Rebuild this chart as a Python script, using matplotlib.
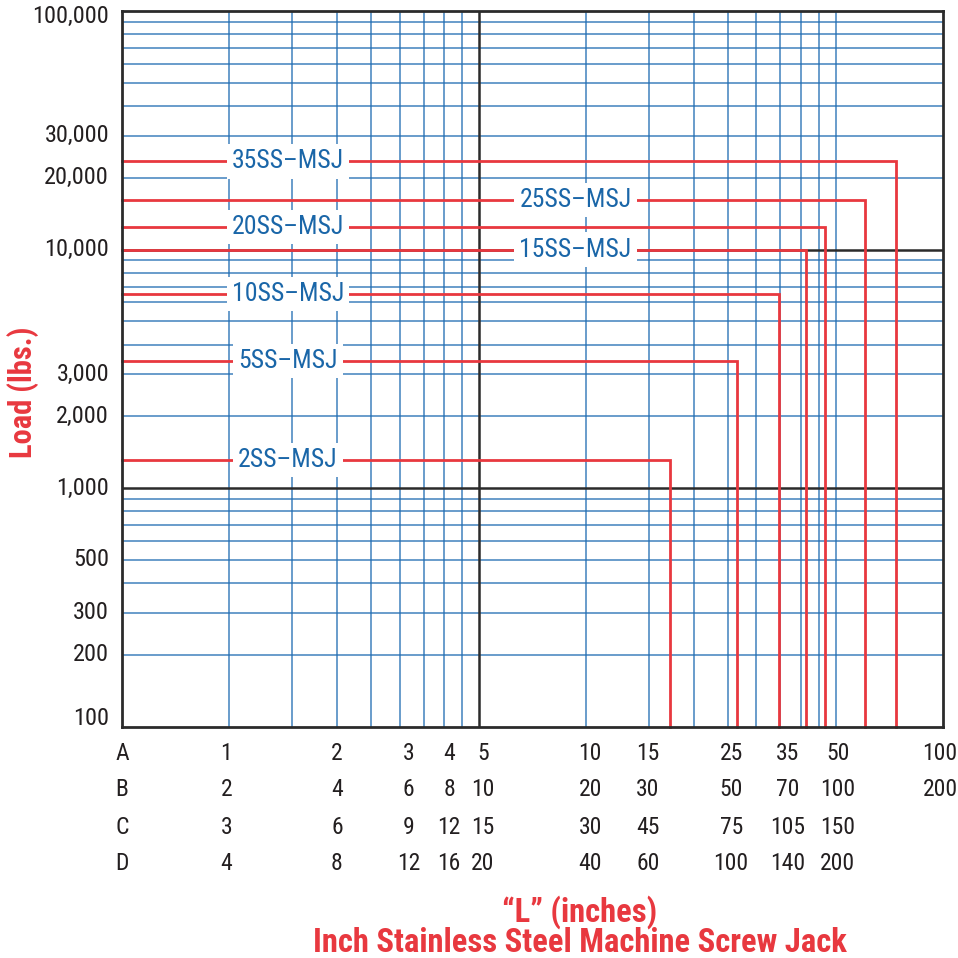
import matplotlib
matplotlib.use("Agg")
import matplotlib.pyplot as plt
from matplotlib import font_manager as fm
from matplotlib.transforms import blended_transform_factory, ScaledTranslation

# ---------------- data ----------------
models = ["2SS\u2013MSJ", "5SS\u2013MSJ", "10SS\u2013MSJ", "15SS\u2013MSJ",
          "20SS\u2013MSJ", "25SS\u2013MSJ", "35SS\u2013MSJ"]
max_load = [1310, 3420, 6500, 10000, 12400, 16100, 23400]      # lbs
max_L_A = [17.2, 26.5, 34.7, 41.3, 46.7, 60.4, 73.9]            # "L" on scale A
label_x = [1.46, 1.46, 1.46, 9.33, 1.46, 9.33, 1.46]

row_names = ["A", "B", "C", "D"]
col_A = [1, 2, 3, 4, 5, 10, 15, 25, 35, 50, 100]
row_labels = [
    ["1", "2", "3", "4", "5", "10", "15", "25", "35", "50", "100"],
    ["2", "4", "6", "8", "10", "20", "30", "50", "70", "100", "200"],
    ["3", "6", "9", "12", "15", "30", "45", "75", "105", "150", ""],
    ["4", "8", "12", "16", "20", "40", "60", "100", "140", "200", ""],
]
col_nudge_px = [-3, 0, 9, 5, 4, 4, -1, 3, 7, 2, -3]

x_grid_blue = [1, 1.5, 2, 2.5, 3, 3.5, 4, 4.5, 10, 15, 20, 25, 30, 35, 40, 45, 50]
x_grid_black = [5]
y_grid_blue = [200, 300, 400, 500, 600, 700, 800, 900,
               2000, 3000, 4000, 5000, 6000, 7000, 8000, 9000,
               20000, 30000, 40000, 50000, 60000, 70000, 80000, 90000]
y_grid_black = [1000, 10000]
y_ticks = [100, 200, 300, 500, 1000, 2000, 3000, 10000, 20000, 30000, 100000]

# ---------------- fonts ----------------
def pick_font():
    for fam in ["Liberation Sans Narrow", "Roboto Condensed", "Open Sans Condensed"]:
        try:
            fm.findfont(fm.FontProperties(family=fam), fallback_to_default=False)
            return fam, 1.0
        except Exception:
            pass
    return "Liberation Sans", 0.85

FONT, SCALE = pick_font()
plt.rcParams["font.family"] = [FONT, "DejaVu Sans"]

RED = "#e8383f"
BLUE = "#1f6cb2"
TXTBLUE = "#1a66a8"
DARK = "#231f20"

W = H = 958
DPI = 100
fig = plt.figure(figsize=(W / DPI, H / DPI), dpi=DPI)
ax_left, ax_right, ax_top, ax_bot = 122, 943, 11, 726.7
ax = fig.add_axes([ax_left / W, 1 - ax_bot / H, (ax_right - ax_left) / W, (ax_bot - ax_top) / H])
ax.set_xscale("log")
ax.set_yscale("log")
ax.set_xlim(0.5, 100)
ax.set_ylim(100, 100000)
ax.set_xticks([])
ax.set_yticks([])
ax.minorticks_off()
ax.tick_params(which="both", length=0, labelbottom=False, labelleft=False)
for s in ax.spines.values():
    s.set_linewidth(2.0)
    s.set_color("#2b2b2b")
    s.set_zorder(10)

for xv in x_grid_blue:
    ax.axvline(xv, color=BLUE, lw=1.1, alpha=0.85, zorder=1)
for yv in y_grid_blue:
    ax.axhline(yv, color=BLUE, lw=1.1, alpha=0.85, zorder=1)
for xv in x_grid_black:
    ax.axvline(xv, color="#2b2b2b", lw=1.8, zorder=2)
for yv in y_grid_black:
    ax.axhline(yv, color="#2b2b2b", lw=1.8, zorder=2)

# capacity lines
for m, ld, L, lx in zip(models, max_load, max_L_A, label_x):
    ax.plot([0.5, L, L], [ld, ld, 100], color=RED, lw=2.0, zorder=3,
            solid_joinstyle="miter", clip_on=False)
    ax.text(lx, ld, m, color=TXTBLUE, fontsize=18.5 * SCALE, ha="center", va="center",
            zorder=5, bbox=dict(boxstyle="square,pad=0.2", fc="white", ec="none"))

# y tick labels
ytr = blended_transform_factory(fig.transFigure, ax.transData)
for yv in y_ticks:
    nudge = 0
    if yv == 100:
        nudge = 8
    elif yv == 100000:
        nudge = -5
    t = ytr + ScaledTranslation(0, nudge / DPI, fig.dpi_scale_trans)
    ax.text(109 / W, yv, f"{yv:,}", transform=t, ha="right", va="center",
            fontsize=17.5 * SCALE, color=DARK, clip_on=False)

# bottom multi-row L scale
row_y = [753, 790, 827, 863]
xtr = blended_transform_factory(ax.transData, fig.transFigure)
for name, labs, ry in zip(row_names, row_labels, row_y):
    ax.text(0.5, 1 - ry / H, name, transform=xtr, ha="center", va="center",
            fontsize=17 * SCALE, color=DARK, clip_on=False)
    for xa, lab, nd in zip(col_A, labs, col_nudge_px):
        if not lab:
            continue
        t = xtr + ScaledTranslation(nd / DPI, 0, fig.dpi_scale_trans)
        ax.text(xa, 1 - ry / H, lab, transform=t, ha="center", va="center",
                fontsize=17 * SCALE, color=DARK, clip_on=False)

# axis titles
fig.text(23 / W, 1 - 392 / H, "Load (lbs.)", rotation=90, ha="center", va="center",
         color=RED, fontsize=22 * SCALE, fontweight="bold")
fig.text(580 / W, 1 - 912 / H, "\u201cL\u201d (inches)", ha="center", va="center",
         color=RED, fontsize=23.5 * SCALE, fontweight="bold")
fig.text(580 / W, 1 - 943 / H, "Inch Stainless Steel Machine Screw Jack", ha="center",
         va="center", color=RED, fontsize=23.5 * SCALE, fontweight="bold")

fig.savefig("out.png", dpi=DPI)
